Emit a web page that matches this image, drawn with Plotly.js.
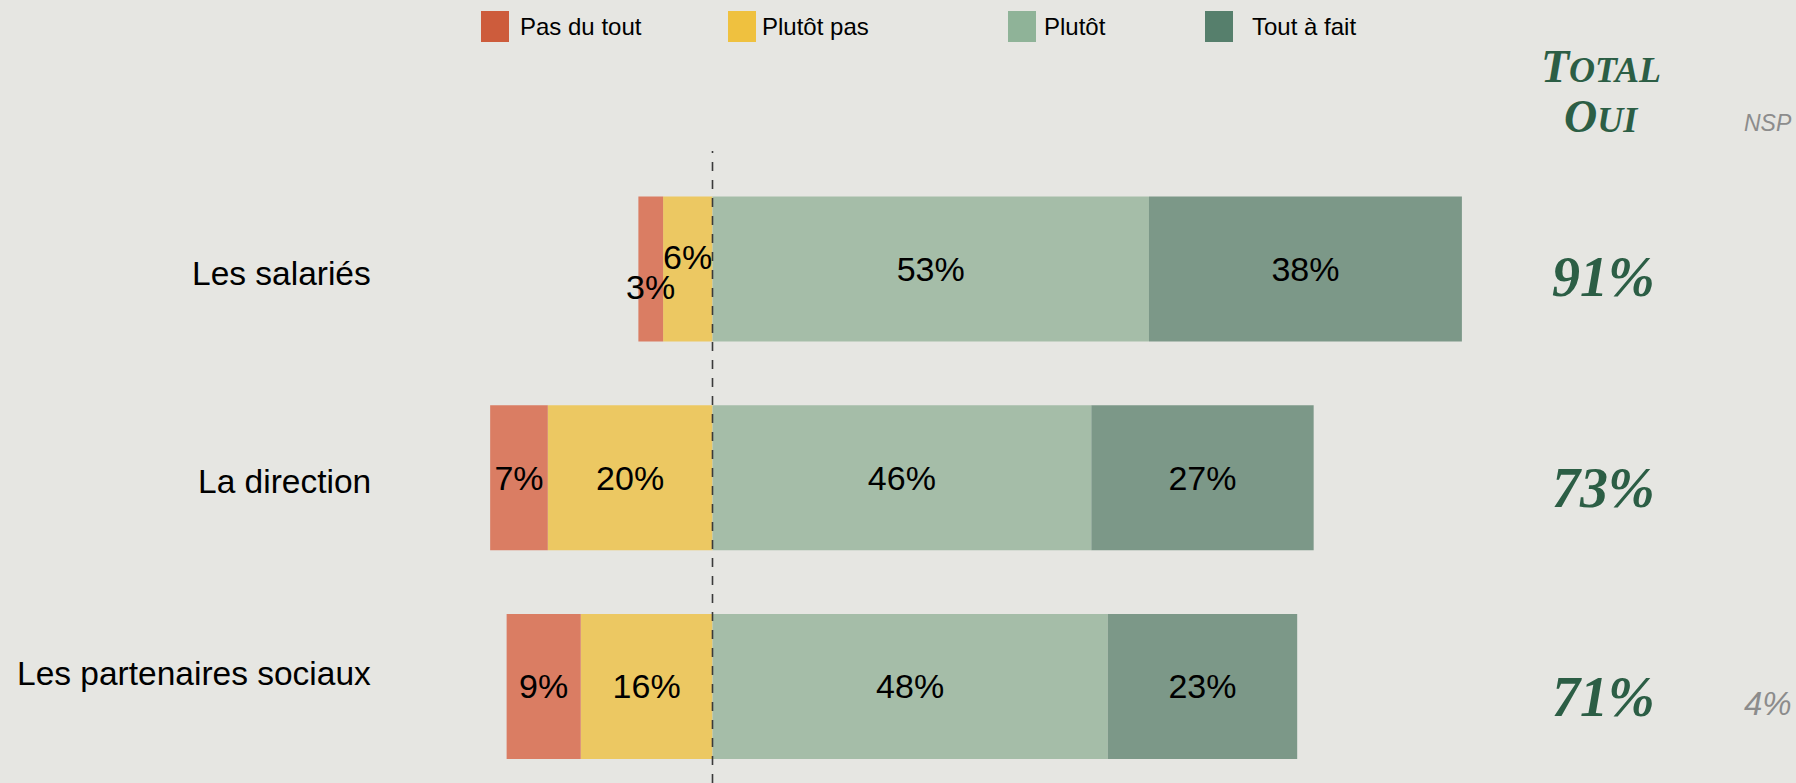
<!DOCTYPE html>
<html>
<head>
<meta charset="utf-8">
<script src="https://cdn.plot.ly/plotly-3.0.1.min.js"></script>
<style>
html,body{margin:0;padding:0;background:#E6E6E2;}
#chart{width:1796px;height:783px;}
</style>
</head>
<body>
<div id="chart"></div>
<script>
// ---- data ----
const categories = ['Les salariés', 'La direction', 'Les partenaires sociaux'];
const seriesNames = ['Pas du tout', 'Plutôt pas', 'Plutôt', 'Tout à fait'];
const pasDuTout = [3, 7, 9];
const plutotPas = [6, 20, 16];
const plutot = [53, 46, 48];
const toutAFait = [38, 27, 23];
const totalOui = [91, 73, 71];
const nsp = [null, null, 4];

// ---- styling ----
const barColors = ['#DA7D63', '#ECC862', '#A5BDA8', '#7C9888'];
const legendColors = ['#CD5C3C', '#EFC13F', '#8FB398', '#567F6C'];
const W = 1796, H = 783;
const labelFont = {family: 'Liberation Sans, Arial, sans-serif', size: 34, color: '#000'};
const idx = categories.map((c, i) => i);
const pct = v => v + '%';

// narrow segments of the first row are labelled with offset annotations
const smallLimit = 7;
function barText(vals) {
  return vals.map((v, i) => (i === 0 && v < smallLimit) ? '' : pct(v));
}

const common = {
  type: 'bar', orientation: 'h', y: idx, width: 0.695,
  textposition: 'inside', insidetextanchor: 'middle', constraintext: 'none',
  textfont: labelFont, hoverinfo: 'skip', showlegend: false
};

const traces = [
  Object.assign({}, common, {name: seriesNames[1], x: plutotPas.map(v => -v), text: barText(plutotPas),
    marker: {color: barColors[1], line: {width: 0}}}),
  Object.assign({}, common, {name: seriesNames[0], x: pasDuTout.map(v => -v), text: barText(pasDuTout),
    marker: {color: barColors[0], line: {width: 0}}}),
  Object.assign({}, common, {name: seriesNames[2], x: plutot, text: plutot.map(pct),
    marker: {color: barColors[2], line: {width: 0}}}),
  Object.assign({}, common, {name: seriesNames[3], x: toutAFait, text: toutAFait.map(pct),
    marker: {color: barColors[3], line: {width: 0}}})
];

const annotations = [];
const shapes = [];

// category labels
const catShift = [-4, -4, 13];
categories.forEach((c, i) => {
  annotations.push({xref: 'paper', yref: 'y', x: 373 / W, y: i, text: c, showarrow: false,
    xanchor: 'right', yanchor: 'middle', yshift: catShift[i],
    font: {family: labelFont.family, size: 33.5, color: '#000'}});
});

// labels for narrow segments of first row
if (pasDuTout[0] < smallLimit) {
  annotations.push({xref: 'x', yref: 'y', x: -(plutotPas[0] + pasDuTout[0] / 2), y: 0, text: pct(pasDuTout[0]),
    showarrow: false, xanchor: 'center', yanchor: 'middle', yshift: -18, font: labelFont});
}
if (plutotPas[0] < smallLimit) {
  annotations.push({xref: 'x', yref: 'y', x: -plutotPas[0] / 2, y: 0, text: pct(plutotPas[0]),
    showarrow: false, xanchor: 'center', yanchor: 'middle', yshift: 12, font: labelFont});
}

// TOTAL OUI column
const totalFont = {family: 'Liberation Serif, DejaVu Serif, serif', size: 56, color: '#2C5E45'};
totalOui.forEach((v, i) => {
  annotations.push({xref: 'paper', yref: 'y', x: 1603 / W, y: i, text: '<b><i>' + pct(v) + '</i></b>',
    showarrow: false, xanchor: 'center', yanchor: 'middle', yshift: [-8, -10, -11][i], font: totalFont});
});
const headFont = {family: totalFont.family, size: 36, color: totalFont.color};
annotations.push({xref: 'paper', yref: 'paper', x: 1601 / W, y: 1 - 66 / H,
  text: "<b><i><span style='font-size:46px'>T</span>OTAL</i></b>", showarrow: false,
  xanchor: 'center', yanchor: 'middle', font: headFont});
annotations.push({xref: 'paper', yref: 'paper', x: 1601 / W, y: 1 - 116 / H,
  text: "<b><i><span style='font-size:46px'>O</span>UI</i></b>", showarrow: false,
  xanchor: 'center', yanchor: 'middle', font: headFont});

// NSP column
const nspColor = '#8C8C8C';
annotations.push({xref: 'paper', yref: 'paper', x: 1768 / W, y: 1 - 123 / H, text: '<i>NSP</i>',
  showarrow: false, xanchor: 'center', yanchor: 'middle',
  font: {family: labelFont.family, size: 23, color: nspColor}});
nsp.forEach((v, i) => {
  if (v !== null) annotations.push({xref: 'paper', yref: 'y', x: 1768 / W, y: i, text: '<i>' + pct(v) + '</i>',
    showarrow: false, xanchor: 'center', yanchor: 'middle', yshift: -17,
    font: {family: labelFont.family, size: 33, color: nspColor}});
});

// custom legend
const legSwatchX = [481, 728, 1008, 1205];
const legTextX = [518, 760, 1042, 1250];
seriesNames.forEach((n, i) => {
  shapes.push({type: 'rect', xref: 'paper', yref: 'paper', x0: legSwatchX[i] / W, x1: (legSwatchX[i] + 28) / W,
    y0: 1 - 42 / H, y1: 1 - 11 / H, fillcolor: legendColors[i], line: {width: 0}});
  annotations.push({xref: 'paper', yref: 'paper', x: legTextX[i] / W, y: 1 - 26 / H, text: n,
    showarrow: false, xanchor: 'left', yanchor: 'middle',
    font: {family: 'Liberation Sans, Arial, sans-serif', size: 24, color: '#000'}});
});

// zero dashed line
shapes.push({type: 'line', xref: 'x', yref: 'paper', x0: 0, x1: 0, y0: 0, y1: 1 - 151 / H,
  line: {color: '#3A3A3A', width: 1.6, dash: 'dash'}, layer: 'above'});

const pxPerPct = 8.235, zeroPx = 712.5;
const xr0 = -zeroPx / pxPerPct, xr1 = xr0 + W / pxPerPct;
const pxPerRow = 208.7, row0Px = 269;
const yTop = -row0Px / pxPerRow, yBot = yTop + H / pxPerRow;

const layout = {
  width: W, height: H,
  margin: {l: 0, r: 0, t: 0, b: 0},
  paper_bgcolor: '#E6E6E2', plot_bgcolor: 'rgba(0,0,0,0)',
  barmode: 'relative', bargap: 0.3,
  xaxis: {range: [xr0, xr1], visible: false, fixedrange: true},
  yaxis: {range: [yBot, yTop], visible: false, fixedrange: true},
  showlegend: false,
  annotations: annotations, shapes: shapes
};

Plotly.newPlot('chart', traces, layout, {displayModeBar: false, staticPlot: true});
</script>
</body>
</html>
